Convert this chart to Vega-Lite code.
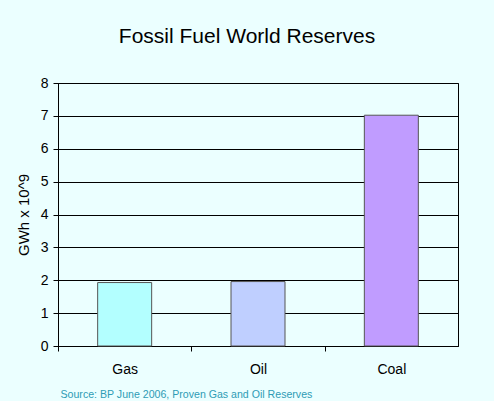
{
  "$schema": "https://vega.github.io/schema/vega-lite/v6.json",
  "width": 400,
  "height": 263,
  "autosize": {"type": "none"},
  "padding": {"left": 58, "top": 83, "right": 36, "bottom": 55},
  "background": "#ebffff",
  "title": {
    "text": "Fossil Fuel World Reserves",
    "font": "Liberation Sans",
    "fontSize": 21,
    "fontWeight": "normal",
    "color": "#000000",
    "anchor": "middle",
    "dx": -11,
    "offset": 29
  },
  "data": {
    "values": [
      {"fuel": "Gas", "reserves": 1.93},
      {"fuel": "Oil", "reserves": 1.96},
      {"fuel": "Coal", "reserves": 7.02}
    ]
  },
  "config": {
    "view": {"stroke": "#000000", "strokeWidth": 1},
    "axis": {
      "labelFont": "Liberation Sans",
      "titleFont": "Liberation Sans",
      "labelColor": "#000000",
      "domainColor": "#000000",
      "tickColor": "#000000",
      "gridColor": "#000000",
      "gridOpacity": 1
    }
  },
  "mark": {"type": "bar", "stroke": "#555555", "strokeWidth": 1},
  "encoding": {
    "x": {
      "field": "fuel",
      "type": "nominal",
      "sort": ["Gas", "Oil", "Coal"],
      "scale": {"paddingInner": 0.595, "paddingOuter": 0.2975},
      "axis": {
        "labelAngle": 0,
        "labelFontSize": 14,
        "labelPadding": 11,
        "tickOffset": -66.67,
        "labelOffset": 66.67,
        "tickSize": 5,
        "grid": false,
        "title": "Source:  BP June 2006, Proven Gas and Oil Reserves",
        "titleFontSize": 10.6,
        "titleFontWeight": "normal",
        "titleColor": "#2e9cb5",
        "titleAnchor": "start",
        "titleX": 2,
        "titlePadding": 13
      }
    },
    "y": {
      "field": "reserves",
      "type": "quantitative",
      "scale": {"domain": [0, 8]},
      "axis": {
        "values": [0, 1, 2, 3, 4, 5, 6, 7, 8],
        "labelOverlap": false,
        "labelFlush": false,
        "labelFontSize": 14,
        "labelPadding": 5,
        "tickSize": 5,
        "grid": true,
        "title": "GWh x 10^9",
        "titleFontSize": 15,
        "titleFontWeight": "normal",
        "titleColor": "#000000",
        "titlePadding": 9
      }
    },
    "color": {
      "field": "fuel",
      "type": "nominal",
      "scale": {"domain": ["Gas", "Oil", "Coal"], "range": ["#b3ffff", "#bfcfff", "#c09cff"]},
      "legend": null
    }
  }
}
